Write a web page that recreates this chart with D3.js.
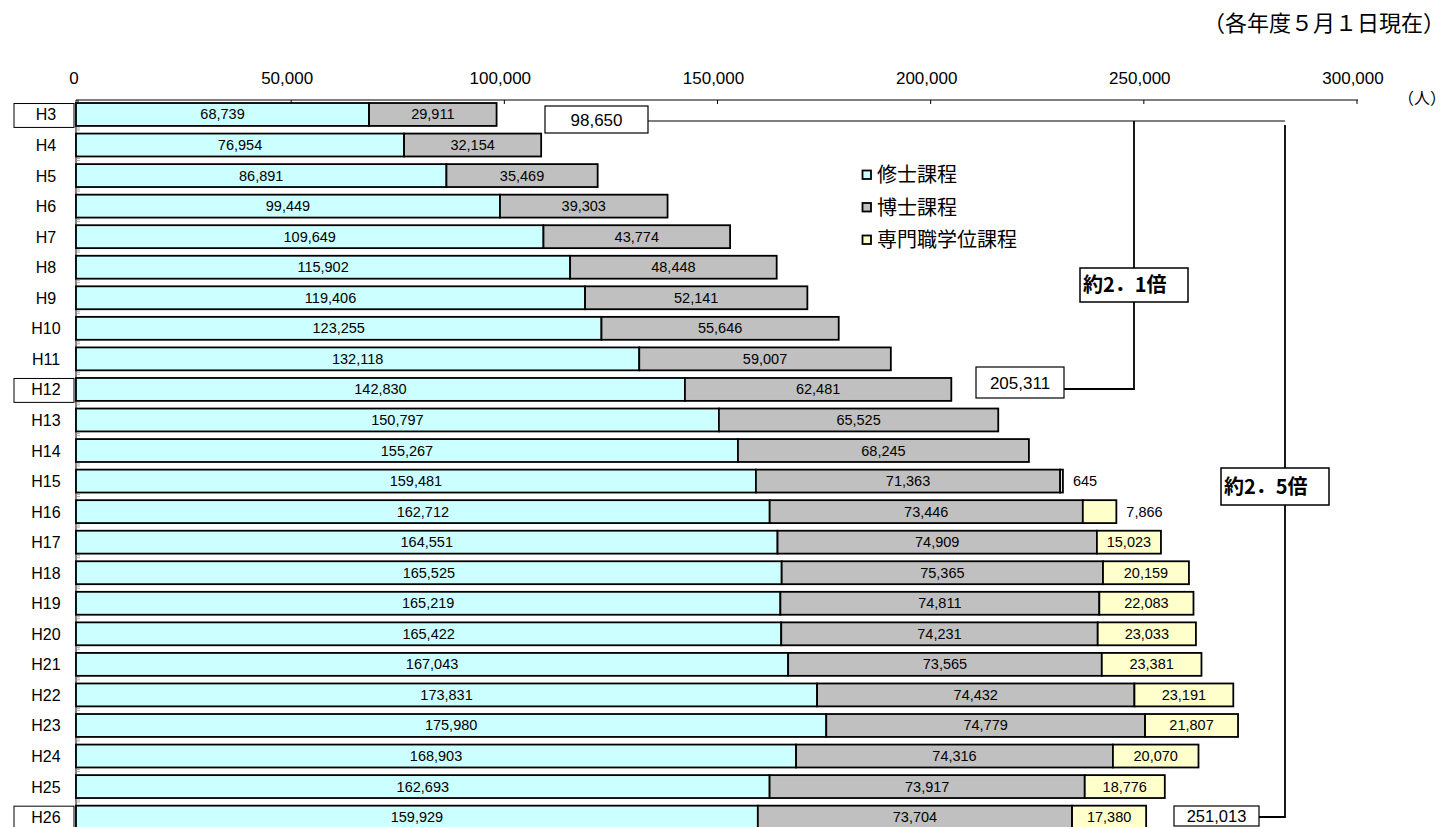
<!DOCTYPE html>
<html>
<head>
<meta charset="utf-8">
<script src="https://cdn.jsdelivr.net/npm/d3@7"></script>
<style>
body { margin: 0; background: #fff; }
text { font-family: "Liberation Sans", Arial, "Noto Sans CJK JP", sans-serif; }
.jp { font-family: "Noto Sans CJK JP", sans-serif; }
</style>
</head>
<body>
<script>
/* Chart data: graduate students by fiscal year */
var years = ["H3","H4","H5","H6","H7","H8","H9","H10","H11","H12","H13","H14","H15",
             "H16","H17","H18","H19","H20","H21","H22","H23","H24","H25","H26"];
var master = [68739,76954,86891,99449,109649,115902,119406,123255,132118,142830,150797,155267,
              159481,162712,164551,165525,165219,165422,167043,173831,175980,168903,162693,159929];
var doctor = [29911,32154,35469,39303,43774,48448,52141,55646,59007,62481,65525,68245,
              71363,73446,74909,75365,74811,74231,73565,74432,74779,74316,73917,73704];
var professional = [0,0,0,0,0,0,0,0,0,0,0,0,645,7866,15023,20159,22083,23033,23381,23191,21807,20070,18776,17380];
var seriesNames = ["修士課程","博士課程","専門職学位課程"];
var colours = ["#ccffff","#c0c0c0","#ffffcc"];
var xTicks = [0,50000,100000,150000,200000,250000,300000];
var highlighted = ["H3","H12","H26"];

var width = 1446, height = 827;
var axisY = 100;

var svg = d3.select("body").append("svg")
  .attr("width", width).attr("height", height);

var x = d3.scaleLinear().domain([0, 300000]).range([76, 1355]);
var y = d3.scaleBand().domain(years).range([99.2, 99.2 + 24 * 30.55])
  .paddingInner(0.25).paddingOuter(0.125);

/* Stack the three series */
var rows = years.map(function(yr, i) {
  return {year: yr, values: [master[i], doctor[i], professional[i]]};
});

/* Top axis */
svg.append("line")
  .attr("x1", x(0)).attr("x2", x(300000) + 3)
  .attr("y1", axisY).attr("y2", axisY)
  .attr("stroke", "#000").attr("stroke-width", 1);
svg.selectAll(".xtick").data(xTicks).enter().append("line")
  .attr("x1", function(d) { return x(d) + 2; }).attr("x2", function(d) { return x(d) + 2; })
  .attr("y1", axisY).attr("y2", axisY + 4)
  .attr("stroke", "#000");
svg.selectAll(".xlabel").data(xTicks).enter().append("text")
  .attr("x", function(d) { return x(d) - 2; })
  .attr("y", 84)
  .attr("text-anchor", "middle")
  .attr("font-size", 17)
  .text(function(d) { return d3.format(",")(d); });

svg.append("text").attr("class", "jp")
  .attr("x", 1446).attr("y", 104).attr("text-anchor", "end")
  .attr("font-size", 16).text("（人）");
svg.append("text").attr("class", "jp")
  .attr("x", 1445).attr("y", 31).attr("text-anchor", "end")
  .attr("font-size", 22).text("（各年度５月１日現在）");

/* Category axis */
svg.append("line")
  .attr("x1", x(0)).attr("x2", x(0))
  .attr("y1", axisY).attr("y2", height)
  .attr("stroke", "#000");
[2, 4].forEach(function(off) {
  svg.selectAll(".ytick" + off).data(years).enter().append("line")
    .attr("x1", x(0)).attr("x2", x(0) + 4)
    .attr("y1", function(d) { return y(d) + y.bandwidth() + off; })
    .attr("y2", function(d) { return y(d) + y.bandwidth() + off; })
    .attr("stroke", "#999").attr("stroke-width", 0.8);
});

svg.selectAll(".ybox").data(highlighted).enter().append("rect")
  .attr("x", 14).attr("width", 60)
  .attr("y", function(d) { return y(d) + 0.5; })
  .attr("height", y.bandwidth() + 1)
  .attr("fill", "#fff").attr("stroke", "#000");
svg.selectAll(".ylabel").data(years).enter().append("text")
  .attr("x", 46)
  .attr("y", function(d) { return y(d) + y.bandwidth() / 2 + 6; })
  .attr("text-anchor", "middle")
  .attr("font-size", 16)
  .text(function(d) { return d; });

/* Bars */
var rowG = svg.selectAll(".row").data(rows).enter().append("g")
  .attr("transform", function(d) { return "translate(0," + y(d.year) + ")"; });

rowG.each(function(d) {
  var g = d3.select(this);
  var start = 0;
  d.values.forEach(function(v, k) {
    if (v > 0) {
      g.append("rect")
        .attr("x", x(start)).attr("y", 0)
        .attr("width", x(start + v) - x(start))
        .attr("height", y.bandwidth())
        .attr("fill", colours[k])
        .attr("stroke", "#000").attr("stroke-width", 1.8);
      var w = x(start + v) - x(start);
      var inside = w > 50;
      g.append("text")
        .attr("x", inside ? (x(start) + x(start + v)) / 2 : x(start + v) + 10)
        .attr("y", y.bandwidth() / 2 + 5)
        .attr("text-anchor", inside ? "middle" : "start")
        .attr("font-size", 14.5)
        .text(d3.format(",")(v));
    }
    start += v;
  });
});

/* Legend */
var legend = svg.selectAll(".legend").data(seriesNames).enter().append("g")
  .attr("transform", function(d, i) { return "translate(862," + (175 + i * 32.5) + ")"; });
legend.append("rect")
  .attr("x", 0.5).attr("y", -4.5).attr("width", 8.5).attr("height", 8.5)
  .attr("fill", function(d, i) { return colours[i]; })
  .attr("stroke", "#000").attr("stroke-width", 1.8);
legend.append("text").attr("class", "jp")
  .attr("x", 15).attr("y", 7).attr("font-size", 20)
  .text(function(d) { return d; });

/* Growth annotations */
function total(yr) {
  var i = years.indexOf(yr);
  return master[i] + doctor[i] + professional[i];
}
function valueBox(cx, cy, w, h, ty, fs, txt) {
  svg.append("rect").attr("x", cx).attr("y", cy).attr("width", w).attr("height", h)
    .attr("fill", "#fff").attr("stroke", "#000").attr("stroke-width", 1.2);
  svg.append("text").attr("x", cx + w / 2).attr("y", ty)
    .attr("text-anchor", "middle").attr("font-size", fs).text(txt);
}
function ratioBox(cx, cy, w, h, txt) {
  svg.append("rect").attr("x", cx).attr("y", cy).attr("width", w).attr("height", h)
    .attr("fill", "#fff").attr("stroke", "#000").attr("stroke-width", 1.5);
  svg.append("text").attr("class", "jp").attr("x", cx + 3).attr("y", cy + h / 2 + 7)
    .attr("font-size", 20).attr("font-weight", "bold").text(txt);
}
var path = svg.append("g").attr("fill", "none").attr("stroke", "#000").attr("stroke-width", 1.8);
path.append("path").attr("d", "M648,121 H1285").attr("stroke-width", 1.2);
path.append("path").attr("d", "M1134,121 V389 H1064");
path.append("path").attr("d", "M1285,125 V817 H1259");

valueBox(545, 106, 103, 27, 126, 17, d3.format(",")(total("H3")));
valueBox(976, 367, 88, 31, 389, 17, d3.format(",")(total("H12")));
valueBox(1174, 806, 85, 20, 822, 16.5, d3.format(",")(total("H26")));
ratioBox(1080, 268, 108, 34, "約2．1倍");
ratioBox(1221, 468, 108, 37, "約2．5倍");
</script>
</body>
</html>
